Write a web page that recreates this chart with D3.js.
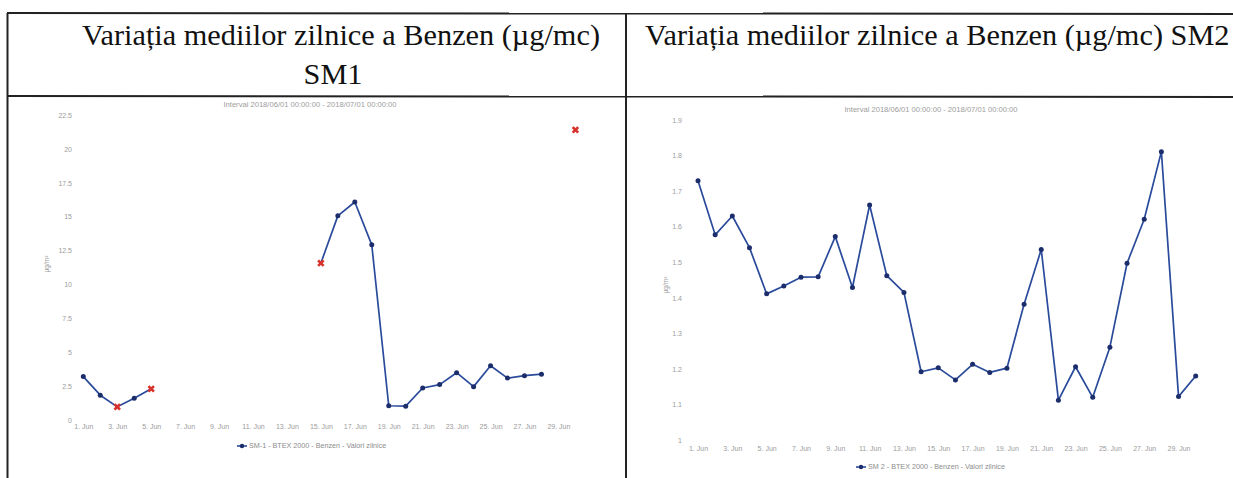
<!DOCTYPE html>
<html>
<head>
<meta charset="utf-8">
<script src="https://cdn.jsdelivr.net/npm/d3@7/dist/d3.min.js"></script>
<style>
  html, body { margin: 0; padding: 0; background: #fff; }
  svg { display: block; }
</style>
</head>
<body>
<div id="chart"></div>
<script>
// daily means, June 2018 (day of month 1..30), null = no data
var days = d3.range(1, 31);

var sm1Values = [3.2, 1.83, 0.97, 1.6, 2.3, null, null, null, null, null,
                 null, null, null, null, 11.57, 15.06, 16.08, 12.92, 1.05, 1.02,
                 2.36, 2.61, 3.49, 2.46, 4.0, 3.09, 3.27, 3.38, null, 21.4];
var sm1Flagged = [3, 5, 15, 30];   // red markers

var sm2Values = [1.729, 1.577, 1.630, 1.541, 1.411, 1.433, 1.458, 1.459, 1.572, 1.429,
                 1.661, 1.462, 1.415, 1.192, 1.203, 1.169, 1.213, 1.190, 1.202, 1.382,
                 1.536, 1.112, 1.206, 1.120, 1.261, 1.497, 1.621, 1.811, 1.122, 1.180];
var sm2Flagged = [];

var sm1Ticks = [0, 2.5, 5, 7.5, 10, 12.5, 15, 17.5, 20, 22.5];
var sm2Ticks = [1, 1.1, 1.2, 1.3, 1.4, 1.5, 1.6, 1.7, 1.8, 1.9];
var xTickDays = d3.range(1, 30, 2);

var titleMain = "Variația mediilor zilnice a Benzen (µg/mc)";
var subtitle = "Interval 2018/06/01 00:00:00 - 2018/07/01 00:00:00";

var W = 1233, H = 478;
var lineColor = "#2a4b9b", dotColor = "#1b2d6b", textGray = "#9c9c9c";

var svg = d3.select("#chart").append("svg")
  .attr("width", W).attr("height", H);
svg.append("rect").attr("width", W).attr("height", H).attr("fill", "#fff");

// table frame
var frame = svg.append("g").attr("stroke", "#222").attr("stroke-width", 2);
frame.append("line").attr("x1", 7).attr("x2", W).attr("y1", 13).attr("y2", 14);
frame.append("line").attr("x1", 7).attr("x2", W).attr("y1", 96).attr("y2", 97);
frame.append("line").attr("x1", 7.5).attr("x2", 7.5).attr("y1", 13).attr("y2", H);
frame.append("line").attr("x1", 626).attr("x2", 626).attr("y1", 13).attr("y2", H);

// titles
var tfont = "'Liberation Serif', 'Times New Roman', serif";
svg.append("text").attr("x", 82).attr("y", 45)
  .attr("font-family", tfont).attr("font-size", 30.3).attr("fill", "#111")
  .text(titleMain);
svg.append("text").attr("x", 333).attr("y", 84).attr("text-anchor", "middle")
  .attr("font-family", tfont).attr("font-size", 30.3).attr("fill", "#111")
  .text("SM1");
svg.append("text").attr("x", 645).attr("y", 45)
  .attr("font-family", tfont).attr("font-size", 30.3).attr("fill", "#111")
  .text(titleMain + " SM2");

function drawPanel(cfg) {
  var g = svg.append("g").attr("font-family", "'Liberation Sans', Arial, sans-serif");

  var x = d3.scaleUtc()
    .domain([new Date(Date.UTC(2018, 5, 1)), new Date(Date.UTC(2018, 5, 30))])
    .range(cfg.xRange);
  var y = d3.scaleLinear().domain(cfg.yDomain).range(cfg.yRange);

  var pts = days.map(function(d, i) {
    return {date: new Date(Date.UTC(2018, 5, d)), day: d, value: cfg.values[i],
            flagged: cfg.flagged.indexOf(d) >= 0};
  });

  // subtitle
  g.append("text").attr("x", cfg.subX).attr("y", cfg.subY)
    .attr("text-anchor", "middle").attr("font-size", 7.6).attr("fill", textGray)
    .text(subtitle);

  // y axis labels
  var yAxis = d3.axisLeft(y).tickValues(cfg.yTicks).tickSize(0).tickPadding(0)
    .tickFormat(d3.format("~g"));
  var ya = g.append("g").attr("transform", "translate(" + cfg.yLabelX + ",0)").call(yAxis);
  ya.select(".domain").remove();
  ya.selectAll("text").attr("fill", textGray).attr("font-size", 7)
    .attr("font-family", "'Liberation Sans', Arial, sans-serif");

  // y axis title
  g.append("text")
    .attr("transform", "translate(" + cfg.yTitle[0] + "," + cfg.yTitle[1] + ") rotate(-90)")
    .attr("text-anchor", "middle").attr("font-size", 6.5).attr("fill", textGray)
    .text("µg/m³");

  // x axis labels
  var xAxis = d3.axisBottom(x)
    .tickValues(xTickDays.map(function(d) { return new Date(Date.UTC(2018, 5, d)); }))
    .tickSize(0).tickPadding(0)
    .tickFormat(d3.utcFormat("%-d. %b"));
  var xa = g.append("g").attr("transform", "translate(0," + cfg.xLabelY + ")").call(xAxis);
  xa.select(".domain").remove();
  xa.selectAll("text").attr("fill", textGray).attr("font-size", 7)
    .attr("font-family", "'Liberation Sans', Arial, sans-serif");

  // series line
  var line = d3.line()
    .defined(function(d) { return d.value != null; })
    .x(function(d) { return x(d.date); })
    .y(function(d) { return y(d.value); });
  g.append("path").datum(pts)
    .attr("d", line).attr("fill", "none")
    .attr("stroke", lineColor).attr("stroke-width", 1.7)
    .attr("stroke-linejoin", "round");

  var valid = pts.filter(function(d) { return d.value != null; });
  g.selectAll("circle.pt").data(valid.filter(function(d) { return !d.flagged; }))
    .enter().append("circle").attr("class", "pt")
    .attr("cx", function(d) { return x(d.date); })
    .attr("cy", function(d) { return y(d.value); })
    .attr("r", 2.5).attr("fill", dotColor);

  g.selectAll("path.flag").data(valid.filter(function(d) { return d.flagged; }))
    .enter().append("path").attr("class", "flag")
    .attr("d", d3.symbol().type(d3.symbolCross).size(34))
    .attr("transform", function(d) {
      return "translate(" + x(d.date) + "," + y(d.value) + ") rotate(45)";
    })
    .attr("fill", "#d8322d");

  // legend
  var lg = g.append("g").attr("transform", "translate(" + cfg.legend[0] + "," + cfg.legend[1] + ")");
  lg.append("line").attr("x1", 0).attr("x2", 10).attr("y1", 0).attr("y2", 0)
    .attr("stroke", lineColor).attr("stroke-width", 1.6);
  lg.append("circle").attr("cx", 5).attr("cy", 0).attr("r", 2.2).attr("fill", dotColor);
  lg.append("text").attr("x", 12).attr("y", 2.4).attr("font-size", 7.2)
    .attr("fill", "#8c8c8c").text(cfg.legendText);
}

drawPanel({
  values: sm1Values, flagged: sm1Flagged, yTicks: sm1Ticks,
  xRange: [83.3, 575.4], yDomain: [0, 22.5], yRange: [420, 115],
  yLabelX: 72, xLabelY: 424, yTitle: [49, 264],
  subX: 310, subY: 107, legend: [237, 446],
  legendText: "SM-1 - BTEX 2000 - Benzen - Valori zilnice"
});

drawPanel({
  values: sm2Values, flagged: sm2Flagged, yTicks: sm2Ticks,
  xRange: [698, 1195.7], yDomain: [1, 1.9], yRange: [440, 120],
  yLabelX: 682, xLabelY: 446, yTitle: [668, 285],
  subX: 931, subY: 112, legend: [856, 467],
  legendText: "SM 2 - BTEX 2000 - Benzen - Valori zilnice"
});
</script>
</body>
</html>
